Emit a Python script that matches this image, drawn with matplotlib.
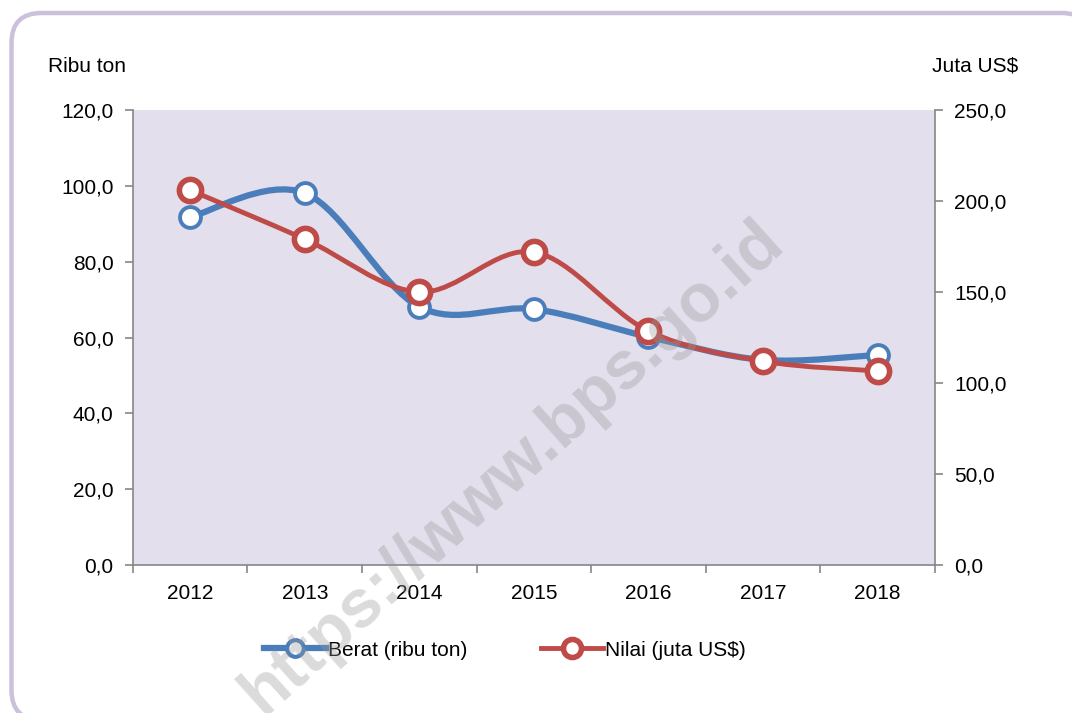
import matplotlib.pyplot as plt
import numpy as np
from matplotlib.patches import FancyBboxPatch, PathPatch
from matplotlib.path import Path
from matplotlib.lines import Line2D

years = ['2012', '2013', '2014', '2015', '2016', '2017', '2018']
berat = [91.8, 98.1, 68.1, 67.5, 60.2, 54.1, 55.4]        # ribu ton
nilai = [206.0, 179.1, 150.0, 172.0, 128.6, 112.0, 106.6]  # juta US$

blue = '#4A7EBB'
red = '#BE4B48'
plt.rcParams['font.family'] = ['Liberation Sans Narrow', 'Liberation Sans', 'DejaVu Sans']


def smooth_path(xs, ys):
    # excel-like smoothed line: cubic bezier with catmull-rom control points
    xs = np.asarray(xs, float)
    ys = np.asarray(ys, float)
    n = len(xs)
    verts = [(xs[0], ys[0])]
    codes = [Path.MOVETO]
    for i in range(n - 1):
        p0 = (xs[max(i - 1, 0)], ys[max(i - 1, 0)])
        p1 = (xs[i], ys[i])
        p2 = (xs[i + 1], ys[i + 1])
        p3 = (xs[min(i + 2, n - 1)], ys[min(i + 2, n - 1)])
        c1 = (p1[0] + (p2[0] - p0[0]) / 6, p1[1] + (p2[1] - p0[1]) / 6)
        c2 = (p2[0] - (p3[0] - p1[0]) / 6, p2[1] - (p3[1] - p1[1]) / 6)
        verts += [c1, c2, p2]
        codes += [Path.CURVE4] * 3
    return Path(verts, codes)


fig = plt.figure(figsize=(10.72, 7.13), dpi=100)

# rounded frame (in inches), runs off the right and bottom edges like the original
frame = FancyBboxPatch((0.115, -0.07), 10.8, 7.07, boxstyle='round,pad=0,rounding_size=0.3',
                       transform=fig.dpi_scale_trans, facecolor='white', edgecolor='#CCC0DA',
                       linewidth=3.2, zorder=-10)
fig.patches.append(frame)

ax = fig.add_axes([0.124, 0.2076, 0.748, 0.638])
ax2 = ax.twinx()
ax.set_facecolor('#E4DFEC')

x = np.arange(len(years))

ax.set_xlim(-0.5, len(years) - 0.5)
ax.set_ylim(0, 120)
ax2.set_ylim(0, 250)
ax.set_yticks(np.arange(0, 121, 20))
ax.set_yticklabels([f'{v:.1f}'.replace('.', ',') for v in np.arange(0, 121, 20)])
ax2.set_yticks(np.arange(0, 251, 50))
ax2.set_yticklabels([f'{v:.1f}'.replace('.', ',') for v in np.arange(0, 251, 50)])
ax.set_xticks(x)
ax.set_xticklabels(years)
ax.set_xticks(np.arange(-0.5, len(years), 1), minor=True)
ax.tick_params(axis='x', which='major', length=0, pad=14, labelsize=15)
ax.tick_params(axis='x', which='minor', length=6, color='#868686', width=1.2)
ax.tick_params(axis='y', length=6, color='#868686', width=1.2, labelsize=15, pad=8)
ax2.tick_params(axis='y', length=6, color='#868686', width=1.2, labelsize=15, pad=8)

for a in (ax, ax2):
    a.spines['top'].set_visible(False)
    for s in ('left', 'right', 'bottom'):
        a.spines[s].set_color('#868686')
        a.spines[s].set_linewidth(1.2)
ax.spines['right'].set_visible(False)
ax2.spines['left'].set_visible(False)
ax2.spines['bottom'].set_visible(False)

# lines
ax.add_patch(PathPatch(smooth_path(x, berat), facecolor='none', edgecolor=blue, linewidth=4.5,
                       capstyle='round', zorder=3))
ax.plot(x, berat, linestyle='none', marker='o', markersize=15, markerfacecolor='white',
        markeredgecolor=blue, markeredgewidth=2.8, zorder=4)
ax2.add_patch(PathPatch(smooth_path(x, nilai), facecolor='none', edgecolor=red, linewidth=3.5,
                        capstyle='round', zorder=3))
ax2.plot(x, nilai, linestyle='none', marker='o', markersize=16, markerfacecolor='white',
         markeredgecolor=red, markeredgewidth=4, zorder=4)

# axis titles
fig.text(48 / 1072, 1 - 66 / 713, 'Ribu ton', fontsize=15, va='center', ha='left')
fig.text(1018 / 1072, 1 - 66 / 713, 'Juta US$', fontsize=15, va='center', ha='right')

# legend
handles = [
    Line2D([], [], color=blue, linewidth=4.5, marker='o', markersize=12, markerfacecolor='white',
           markeredgecolor=blue, markeredgewidth=3),
    Line2D([], [], color=red, linewidth=3.5, marker='o', markersize=13, markerfacecolor='white',
           markeredgecolor=red, markeredgewidth=4),
]
fig.legend(handles, ['Berat (ribu ton)', 'Nilai (juta US$)'], loc='center',
           bbox_to_anchor=(505 / 1072, 1 - 650 / 713), ncol=2, frameon=False, fontsize=15,
           handlelength=3.0, handletextpad=0.1, columnspacing=3.5)

# watermark
fig.text(512 / 1072, 1 - 468 / 713, 'https://www.bps.go.id', fontsize=49, fontweight='bold',
         family=['Liberation Sans', 'DejaVu Sans'], color='#999999', alpha=0.35,
         rotation=42, ha='center', va='center', zorder=10)

fig.savefig('out.png', dpi=100)
